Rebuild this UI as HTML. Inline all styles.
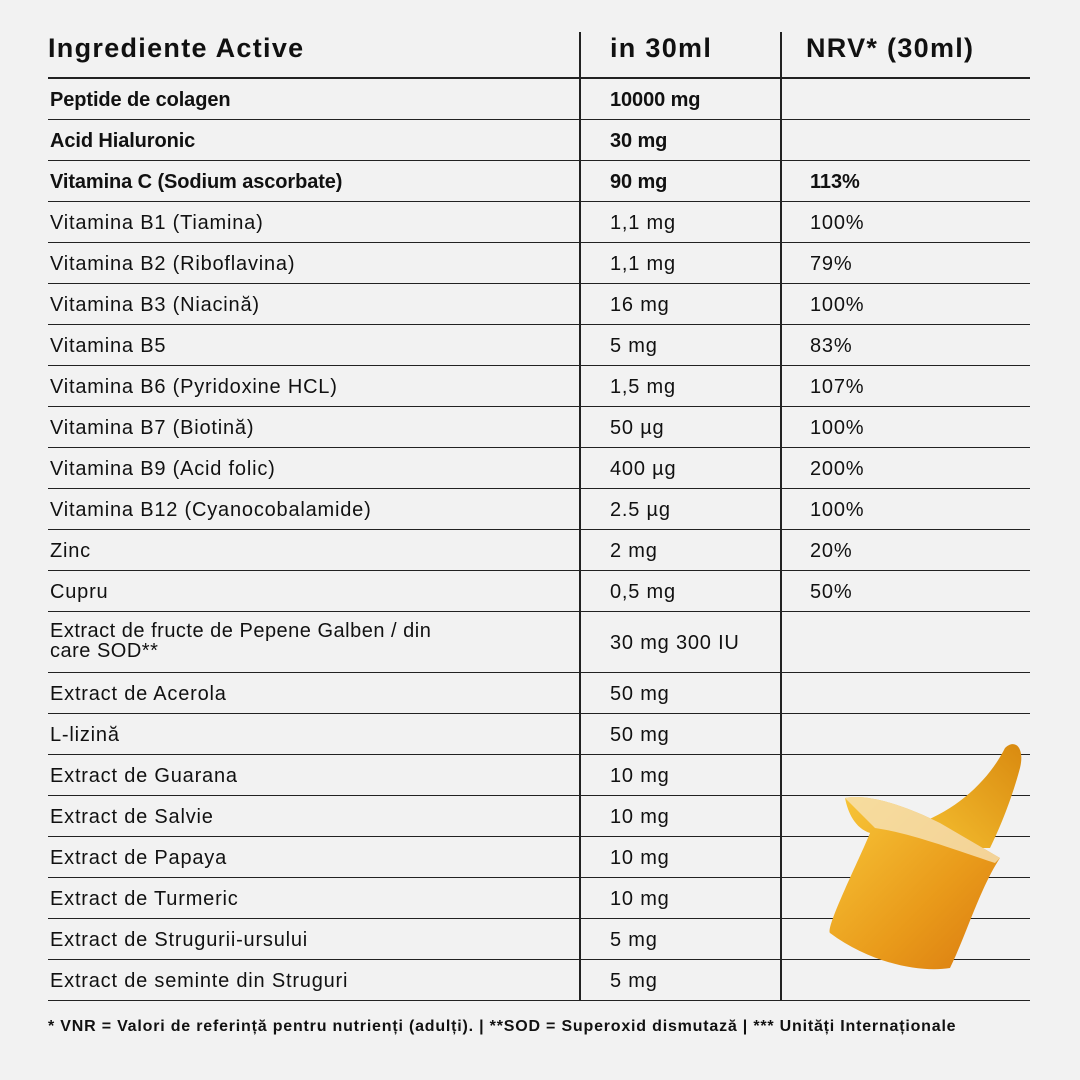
<!DOCTYPE html>
<html><head><meta charset="utf-8"><style>
body{margin:0;width:1080px;height:1080px;background:#f2f2f2;position:relative;overflow:hidden;font-family:"Liberation Sans",sans-serif;color:#111}
.t{position:absolute;font-size:20px;white-space:nowrap;line-height:22px;letter-spacing:0.8px}
.b{font-weight:bold;letter-spacing:-0.1px}
.h{position:absolute;font-size:27px;font-weight:bold;top:33px;letter-spacing:1.3px}
.l{position:absolute;left:48px;width:982px;height:1px;background:#222}
.v{position:absolute;top:32px;height:968px;width:2px;background:#222}
</style></head><body>
<div class="h" style="left:48px">Ingrediente Active</div>
<div class="h" style="left:610px">in 30ml</div>
<div class="h" style="left:806px">NRV* (30ml)</div>
<div class="l" style="top:77px;height:2px"></div>
<div class="v" style="left:579px"></div>
<div class="v" style="left:780px"></div>
<div id="rows"></div>
<svg style="position:absolute;left:800px;top:738px" width="230" height="240" viewBox="0 0 230 240">
<defs><linearGradient id="g" x1="0" y1="0" x2="1" y2="1"><stop offset="0" stop-color="#f8c83a"/><stop offset="0.6" stop-color="#e99a1a"/><stop offset="1" stop-color="#d97a10"/></linearGradient>
<linearGradient id="s" x1="0" y1="1" x2="1" y2="0"><stop offset="0" stop-color="#f5c030"/><stop offset="1" stop-color="#d98a10"/></linearGradient></defs>
<path d="M120 85 C160 70 190 40 205 10 C215 0 225 10 220 30 C212 60 200 90 190 110 L150 110 Z" fill="url(#s)"/>
<path d="M45 60 C70 55 110 70 140 85 L200 120 C180 150 165 200 150 230 C120 235 70 225 30 195 C25 190 60 120 70 95 C55 90 48 75 45 60 Z" fill="url(#g)"/>
<path d="M45 60 C70 55 110 70 140 85 L200 120 L195 125 C150 110 110 95 75 90 Z" fill="#f6e2b8" opacity="0.8"/>
</svg>
<div class="t b" style="left:48px;top:1016px;font-size:16px;letter-spacing:0.8px">* VNR = Valori de referință pentru nutrienți (adulți). | **SOD = Superoxid dismutază | *** Unități Internaționale</div>
<script>
var rows=[
["Peptide de colagen","10000 mg","",1],["Acid Hialuronic","30 mg","",1],["Vitamina C (Sodium ascorbate)","90 mg","113%",1],
["Vitamina B1 (Tiamina)","1,1 mg","100%"],["Vitamina B2 (Riboflavina)","1,1 mg","79%"],["Vitamina B3 (Niacină)","16 mg","100%"],
["Vitamina B5","5 mg","83%"],["Vitamina B6 (Pyridoxine HCL)","1,5 mg","107%"],["Vitamina B7 (Biotină)","50 µg","100%"],
["Vitamina B9 (Acid folic)","400 µg","200%"],["Vitamina B12 (Cyanocobalamide)","2.5 µg","100%"],["Zinc","2 mg","20%"],["Cupru","0,5 mg","50%"],
["Extract de fructe de Pepene Galben / din<br>care SOD**","30 mg 300 IU","",0,1],["Extract de Acerola","50 mg",""],["L-lizină","50 mg",""],
["Extract de Guarana","10 mg",""],["Extract de Salvie","10 mg",""],["Extract de Papaya","10 mg",""],["Extract de Turmeric","10 mg",""],
["Extract de Strugurii-ursului","5 mg",""],["Extract de seminte din Struguri","5 mg",""]];
var y=78,h="";
rows.forEach(function(r){var hh=r[4]?61:41;var c=y+hh/2-10;
var cls=r[3]?"t b":"t";
if(r[4]){h+='<div class="t" style="left:50px;top:'+(y+10)+'px;line-height:20px;letter-spacing:0.5px">'+r[0]+'</div>';}
else h+='<div class="'+cls+'" style="left:50px;top:'+c+'px">'+r[0]+'</div>';
h+='<div class="'+cls+'" style="left:610px;top:'+c+'px">'+r[1]+'</div>';
h+='<div class="'+cls+'" style="left:810px;top:'+c+'px">'+r[2]+'</div>';
y+=hh;h+='<div class="l" style="top:'+y+'px"></div>';});
document.getElementById("rows").innerHTML=h;
</script>
</body></html>
